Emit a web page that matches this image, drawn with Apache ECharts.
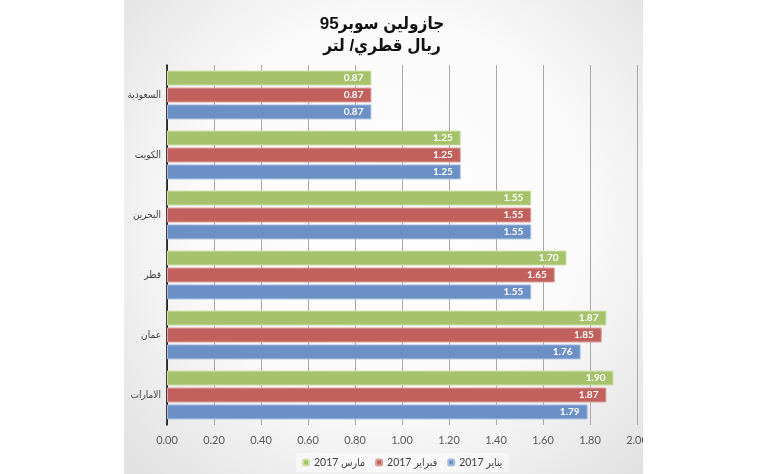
<!DOCTYPE html>
<html>
<head>
<meta charset="UTF-8">
<title></title>
<script src="https://cdn.jsdelivr.net/npm/echarts@6/dist/echarts.min.js"></script>
<style>
	html, body { margin: 0; padding: 0; background: #ffffff; }
	#main { width: 643px; height: 474px; }
</style>
</head>
<body>
<div id="main"></div>
<script type="text/javascript">
// categories from bottom to top
var countries = ['الامارات', 'عمان', 'قطر', 'البحرين', 'الكويت', 'السعودية'];
var janValues = [1.79, 1.76, 1.55, 1.55, 1.25, 0.87];
var febValues = [1.87, 1.85, 1.65, 1.55, 1.25, 0.87];
var marValues = [1.90, 1.87, 1.70, 1.55, 1.25, 0.87];
var seriesNames = ['2017 مارس', '2017 فبراير', '2017 يناير'];

var font = 'Lato, "DejaVu Sans Condensed", "DejaVu Sans", sans-serif';
var colors = ['#a6c36c', '#c1605c', '#6c8fc6'];
var borders = ['#cfe0ab', '#dca3a1', '#a9bfe0'];

function barSeries(i, values) {
	return {
		name: seriesNames[i],
		type: 'bar',
		data: values,
		barWidth: 15,
		barGap: '13%',
		itemStyle: { color: colors[i], borderColor: borders[i], borderWidth: 1 },
		label: {
			show: true,
			position: 'insideRight',
			distance: 8,
			color: '#ffffff',
			fontWeight: 'bold',
			fontSize: 10,
			fontFamily: font,
			formatter: function (p) { return p.value.toFixed(2); }
		}
	};
}

var myChart = echarts.init(document.getElementById('main'));
myChart.setOption({
	animation: false,
	graphic: [{
		type: 'rect',
		z: -10,
		shape: { x: 124, y: 0, width: 530, height: 474 },
		style: {
			fill: {
				type: 'radial', x: 0.5, y: 0.45, r: 0.75,
				colorStops: [{ offset: 0, color: '#ffffff' }, { offset: 0.55, color: '#fafafa' }, { offset: 1, color: '#e2e2e2' }]
			}
		}
	}],
	title: {
		text: 'جازولين سوبر95\nريال قطري/ لتر',
		left: 377,
		top: 8,
		textAlign: 'center',
		textStyle: { fontSize: 17, fontWeight: 'bold', color: '#111111', lineHeight: 22, fontFamily: '"Liberation Sans", "DejaVu Sans Condensed", "DejaVu Sans", sans-serif' }
	},
	legend: {
		data: seriesNames,
		left: 296,
		top: 453,
		itemWidth: 6,
		itemHeight: 6,
		itemGap: 10,
		padding: [4, 6],
		backgroundColor: 'rgba(255,255,255,0.45)',
		textStyle: { fontSize: 10.5, color: '#404040', fontFamily: font }
	},
	grid: { left: 167, right: 6, top: 65, bottom: 49, containLabel: false, outerBoundsMode: 'none' },
	xAxis: {
		type: 'value',
		min: 0,
		max: 2,
		interval: 0.2,
		axisLine: { show: false },
		axisTick: { show: false },
		axisLabel: {
			color: '#595959', fontSize: 11, margin: 10, fontFamily: font,
			formatter: function (v) { return v.toFixed(2); }
		},
		splitLine: { lineStyle: { color: '#a8a8a8', width: 1 } }
	},
	yAxis: {
		type: 'category',
		data: countries,
		axisLine: { lineStyle: { color: '#000000', width: 1.5 } },
		axisTick: { show: false },
		axisLabel: { color: '#404040', fontSize: 10, margin: 6, fontFamily: font }
	},
	series: [
		barSeries(0, marValues),
		barSeries(1, febValues),
		barSeries(2, janValues)
	]
});
</script>
</body>
</html>
